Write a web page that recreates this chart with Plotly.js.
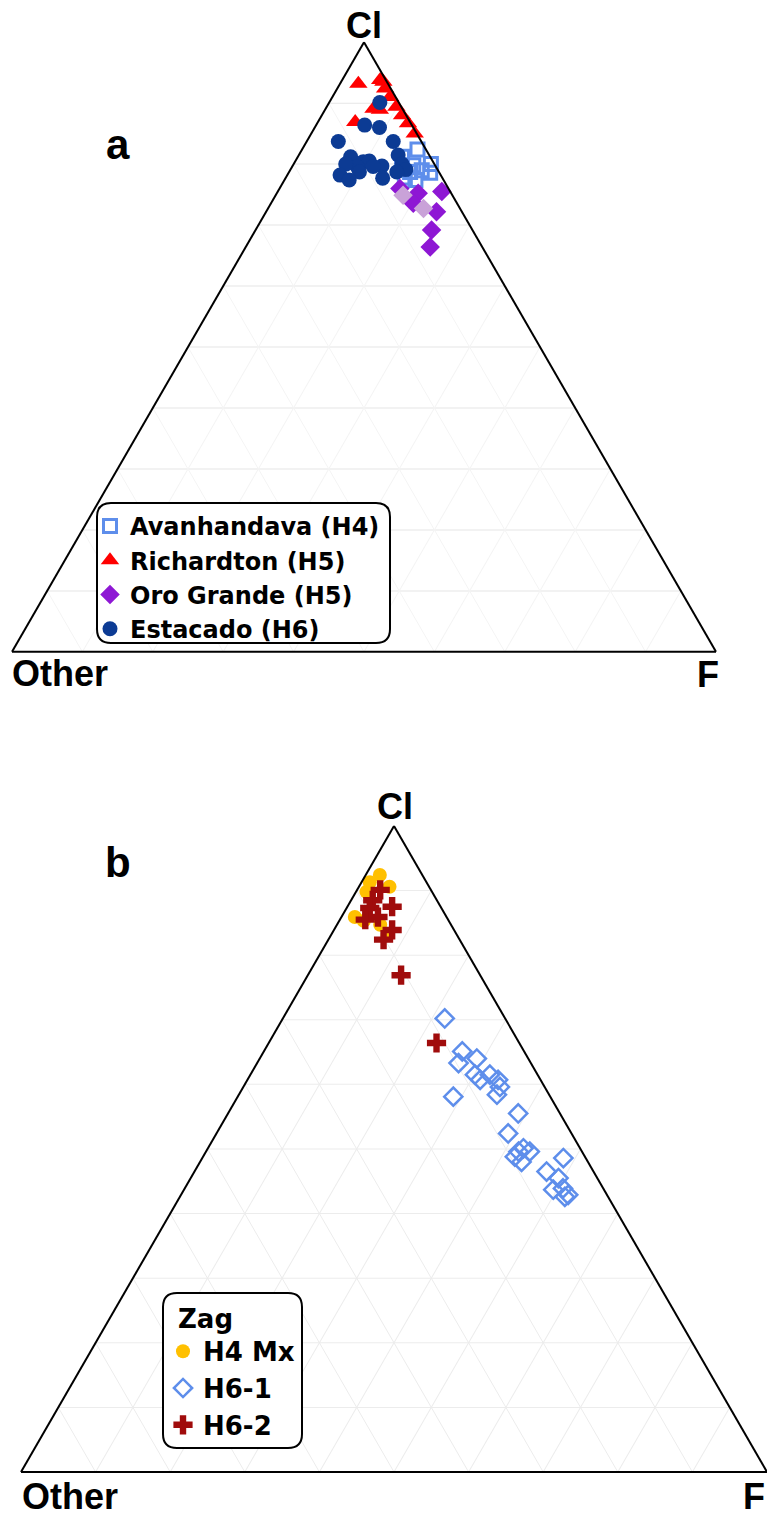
<!DOCTYPE html>
<html><head><meta charset="utf-8">
<script src="https://cdn.plot.ly/plotly-3.0.1.min.js"></script>
<style>html,body{margin:0;padding:0;background:#fff}</style>
</head><body><div id="chart" style="width:767px;height:1516px"></div>
<script>
// ---------- Panel a (values in %: Cl, F, Other) ----------
const avanName = 'Avanhandava (H4)';
const avanCl    = [82.4, 81.2, 80.0, 79.8, 79.0, 78.6, 77.8, 77.4, 78.7];
const avanF     = [16.4, 14.8, 19.5, 17.1, 18.7, 20.1, 16.9, 18.6, 17.2];
const avanOther = [ 1.2,  4.0,  0.5,  3.1,  2.3,  1.3,  5.3,  4.0,  4.1];

const richName = 'Richardton (H5)';
const richCl    = [93.2, 93.8, 92.4, 91.0, 89.1, 89.4, 88.0, 86.7, 85.0, 86.9, 88.9, 93.5];
const richF     = [ 2.6,  5.4,  6.8,  8.2,  6.8,  9.9, 11.4, 12.9, 14.7,  5.3,  7.8,  6.0];
const richOther = [ 4.2,  0.8,  0.8,  0.8,  4.1,  0.7,  0.6,  0.4,  0.3,  7.8,  3.3,  0.5];

const oroName = 'Oro Grande (H5)';
const oroCl    = [76.0, 75.2, 75.5, 73.6, 72.2, 69.2, 66.4];
const oroF     = [17.1, 20.1, 23.3, 20.2, 24.2, 25.0, 26.2];
const oroOther = [ 6.9,  4.7,  1.2,  6.2,  3.6,  5.8,  7.4];
const oroLightCl    = [74.9, 72.7];
const oroLightF     = [18.1, 22.1];
const oroLightOther = [ 7.0,  5.2];

const estName = 'Estacado (H6)';
const estCl    = [90.1, 86.4, 86.0, 83.7, 83.7, 81.2, 80.4, 80.5, 79.6, 80.0, 78.7, 78.2, 77.4, 79.7, 77.7, 81.5, 80.0, 79.1, 78.7, 79.6];
const estF     = [ 7.2,  6.9,  9.2,  4.5, 12.3,  7.5,  9.7, 10.5,  9.2,  7.4, 10.0,  7.5,  9.2, 12.7, 13.8, 14.1, 15.4, 16.4, 15.3, 11.5];
const estOther = [ 2.7,  6.7,  4.8, 11.8,  4.0, 11.3,  9.9,  9.0, 11.2, 12.6, 11.3, 14.3, 13.4,  7.6,  8.5,  4.4,  4.6,  4.5,  6.0,  8.9];

// ---------- Panel b ----------
const zagTitle = 'Zag';
const h4Name = 'H4 Mx';
const h4Cl    = [92.4, 91.3, 90.6, 89.8, 85.9, 85.3, 84.7, 83.1];
const h4F     = [ 1.9,  1.1,  4.1,  1.4,  1.8,  3.3,  5.8,  7.6];
const h4Other = [ 5.7,  7.6,  5.3,  8.8, 12.3, 11.4,  9.5,  9.3];

const h61Name = 'H6-1';
const h61Cl    = [70.2, 65.1, 63.3, 64.0, 61.5, 60.7, 61.5, 60.7, 59.6, 58.4, 58.1, 55.5, 52.4, 49.6, 50.1, 49.6, 48.8, 48.0, 48.6, 46.5, 45.5, 43.7, 43.9, 42.9, 42.6];
const h61F     = [21.7, 26.6, 27.0, 29.1, 30.1, 31.2, 32.1, 33.6, 34.4, 34.6, 28.9, 38.9, 39.1, 41.9, 42.3, 43.4, 41.8, 43.1, 48.4, 47.2, 49.3, 49.5, 50.7, 51.9, 51.6];
const h61Other = [ 8.1,  8.3,  9.7,  6.9,  8.4,  8.1,  6.4,  5.7,  6.0,  7.0, 13.0,  5.6,  8.5,  8.5,  7.6,  7.0,  9.4,  8.9,  3.0,  6.3,  5.2,  6.8,  5.4,  5.2,  5.8];

const h62Name = 'H6-2';
const h62Cl    = [90.1, 88.5, 87.5, 87.3, 85.5, 85.9, 83.9, 82.4, 76.9, 66.4];
const h62F     = [ 3.1,  2.9,  6.0,  3.1,  3.4,  4.9,  7.8,  7.4, 12.5, 22.5];
const h62Other = [ 6.8,  8.6,  6.5,  9.6, 11.1,  9.2,  8.3, 10.2, 10.6, 11.1];

const axisTitles = ['Cl', 'Other', 'F'];
const panelLabels = ['a', 'b'];

// ---------- layout helpers ----------
const W = 767, H = 1516;
const px = x => x / W;
const py = y => 1 - y / H;

function roundRect(x0, y0, x1, y1, r) {
  const P = (x, y) => px(x) + ',' + py(y);
  return 'M' + P(x0 + r, y0) + ' L' + P(x1 - r, y0) + ' Q' + P(x1, y0) + ' ' + P(x1, y0 + r) +
         ' L' + P(x1, y1 - r) + ' Q' + P(x1, y1) + ' ' + P(x1 - r, y1) +
         ' L' + P(x0 + r, y1) + ' Q' + P(x0, y1) + ' ' + P(x0, y1 - r) +
         ' L' + P(x0, y0 + r) + ' Q' + P(x0, y0) + ' ' + P(x0 + r, y0) + ' Z';
}

function tern(subplot, name, a, b, c, marker, legend, showlegend) {
  return {type: 'scatterternary', mode: 'markers', subplot: subplot, name: name,
          a: a, b: b, c: c, marker: marker, legend: legend,
          showlegend: showlegend !== false, hoverinfo: 'skip', cliponaxis: false};
}

const traces = [
  tern('ternary', avanName, avanCl, avanOther, avanF,
       {symbol: 'square-open', size: 13, color: '#5E8EEB', line: {width: 3}}, 'legend'),
  tern('ternary', richName, richCl, richOther, richF,
       {symbol: 'triangle-up', size: 16, color: '#FF0000', line: {width: 0}}, 'legend'),
  tern('ternary', oroName, oroCl, oroOther, oroF,
       {symbol: 'diamond', size: 15, color: '#8E17D4', line: {width: 0}}, 'legend'),
  tern('ternary', oroName, oroLightCl, oroLightOther, oroLightF,
       {symbol: 'diamond', size: 15, color: '#C9A2D8', line: {width: 0}}, 'legend', false),
  tern('ternary', estName, estCl, estOther, estF,
       {symbol: 'circle', size: 15, color: '#0C3B94', line: {width: 0}}, 'legend'),
  tern('ternary2', h4Name, h4Cl, h4Other, h4F,
       {symbol: 'circle', size: 14, color: '#FFC000', line: {width: 0}}, 'legend2'),
  tern('ternary2', h61Name, h61Cl, h61Other, h61F,
       {symbol: 'diamond-open', size: 14, color: '#5E8EEB', line: {width: 2.5}}, 'legend2'),
  tern('ternary2', h62Name, h62Cl, h62Other, h62F,
       {symbol: 'cross', size: 16, color: '#A00C0C', line: {width: 0}}, 'legend2')
];

function axis(gridcolor) {
  return {showticklabels: false, ticks: '', showgrid: true, gridcolor: gridcolor, gridwidth: 1,
          linecolor: '#000', linewidth: 2, showline: true, dtick: 10, title: {text: ''}};
}

const titleFont = {family: 'Liberation Sans, Arial, sans-serif', size: 36, color: '#000', weight: 'bold'};
const labelFont = {family: 'Liberation Sans, Arial, sans-serif', size: 42, color: '#000', weight: 'bold'};

function ann(text, x, y, xanchor, font) {
  return {text: '<b>' + text + '</b>', x: px(x), y: py(y), xref: 'paper', yref: 'paper',
          xanchor: xanchor, yanchor: 'middle', showarrow: false, font: font};
}

const layout = {
  width: W, height: H,
  margin: {l: 0, r: 0, t: 0, b: 0},
  paper_bgcolor: '#fff',
  ternary: {
    domain: {x: [12 / W, 716 / W], y: [0.565, 0.9772]},
    sum: 100, bgcolor: '#fff',
    aaxis: axis('#e6e6e6'), baxis: axis('#f4f4f4'), caxis: axis('#f4f4f4')
  },
  ternary2: {
    domain: {x: [21 / W, 1], y: [0.02, 0.4642]},
    sum: 100, bgcolor: '#fff',
    aaxis: axis('#ececec'), baxis: axis('#ececec'), caxis: axis('#ececec')
  },
  legend: {
    x: px(90), y: py(504), xanchor: 'left', yanchor: 'top',
    bgcolor: 'rgba(0,0,0,0)', borderwidth: 0,
    font: {family: 'DejaVu Sans, sans-serif', size: 24, color: '#000', weight: 'bold'},
    itemclick: false, itemdoubleclick: false
  },
  legend2: {
    x: px(163), y: py(1294), xanchor: 'left', yanchor: 'top',
    bgcolor: 'rgba(0,0,0,0)', borderwidth: 0,
    title: {text: '\u2002<b>' + zagTitle + '</b>', font: {family: 'DejaVu Sans, sans-serif', size: 26, color: '#000', weight: 'bold'}},
    font: {family: 'DejaVu Sans, sans-serif', size: 26, color: '#000', weight: 'bold'},
    itemclick: false, itemdoubleclick: false
  },
  shapes: [
    {type: 'path', xref: 'paper', yref: 'paper', path: roundRect(97, 503, 390, 643, 14),
     line: {color: '#000', width: 2}, fillcolor: '#fff', layer: 'above'},
    {type: 'path', xref: 'paper', yref: 'paper', path: roundRect(163, 1293, 302, 1448, 14),
     line: {color: '#000', width: 2}, fillcolor: '#fff', layer: 'above'}
  ],
  annotations: [
    ann(axisTitles[0], 364, 26, 'center', titleFont),
    ann(axisTitles[1], 10, 673, 'left', titleFont),
    ann(axisTitles[2], 708, 674, 'center', titleFont),
    ann(axisTitles[0], 395, 806, 'center', titleFont),
    ann(axisTitles[1], 20, 1496, 'left', titleFont),
    ann(axisTitles[2], 767, 1496, 'right', titleFont),
    ann(panelLabels[0], 118, 145, 'center', labelFont),
    ann(panelLabels[1], 118, 862, 'center', labelFont)
  ]
};

Plotly.newPlot('chart', traces, layout, {staticPlot: true, displayModeBar: false});
</script>
</body></html>
